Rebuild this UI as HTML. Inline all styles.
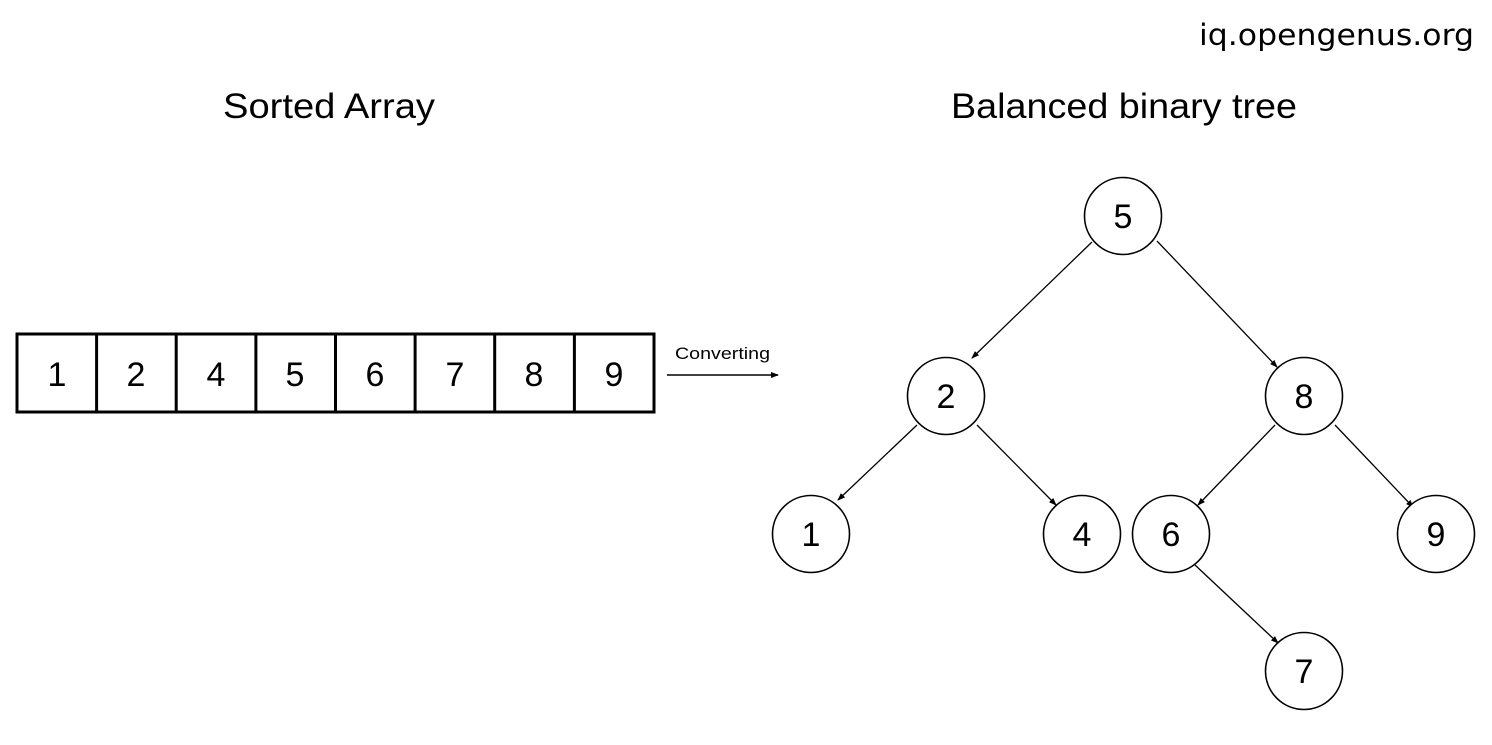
<!DOCTYPE html>
<html><head><style>body{margin:0;background:#fff}svg{display:block}</style></head><body>
<svg width="1492" height="745" viewBox="0 0 1492 745" xmlns="http://www.w3.org/2000/svg" font-family="Liberation Sans, sans-serif">
<defs><marker id="a" markerWidth="8" markerHeight="8" refX="7" refY="4" orient="auto" markerUnits="userSpaceOnUse"><path d="M0,1 L8,4 L0,7 Z" fill="#000"/></marker></defs>
<text x="1199" y="45" font-size="29" textLength="275" lengthAdjust="spacingAndGlyphs" font-family="DejaVu Sans, sans-serif">iq.opengenus.org</text>
<text x="223" y="118" font-size="35" textLength="212" lengthAdjust="spacingAndGlyphs">Sorted Array</text>
<text x="951" y="118" font-size="35" textLength="346" lengthAdjust="spacingAndGlyphs">Balanced binary tree</text>
<g fill="none" stroke="#000" stroke-width="3">
<rect x="17" y="334" width="637" height="78"/>
<line x1="96.6" y1="334" x2="96.6" y2="412"/><line x1="176.2" y1="334" x2="176.2" y2="412"/><line x1="255.9" y1="334" x2="255.9" y2="412"/><line x1="335.5" y1="334" x2="335.5" y2="412"/><line x1="415.1" y1="334" x2="415.1" y2="412"/><line x1="494.7" y1="334" x2="494.7" y2="412"/><line x1="574.4" y1="334" x2="574.4" y2="412"/>
</g>
<g font-size="34" text-anchor="middle">
<text x="57" y="386">1</text><text x="136" y="386">2</text><text x="216" y="386">4</text><text x="295" y="386">5</text><text x="375" y="386">6</text><text x="455" y="386">7</text><text x="534" y="386">8</text><text x="614" y="386">9</text>
</g>
<text x="675" y="359" font-size="17" textLength="95" lengthAdjust="spacingAndGlyphs">Converting</text>
<line x1="667" y1="375" x2="778" y2="375" stroke="#000" stroke-width="1.5" marker-end="url(#a)"/>
<g stroke="#000" stroke-width="1.3" marker-end="url(#a)">
<line x1="1092" y1="242" x2="972" y2="358"/>
<line x1="1157" y1="241" x2="1277" y2="367"/>
<line x1="917" y1="425" x2="838" y2="500"/>
<line x1="977" y1="425" x2="1056" y2="505"/>
<line x1="1275" y1="425" x2="1198" y2="505"/>
<line x1="1335" y1="425" x2="1413" y2="507"/>
<line x1="1195" y1="565" x2="1278" y2="643"/>
</g>
<g fill="#fff" stroke="#000" stroke-width="1.6">
<circle cx="1123" cy="216" r="38.5"/><circle cx="946" cy="396" r="38.5"/><circle cx="1304" cy="396" r="38.5"/><circle cx="811" cy="534" r="38.5"/><circle cx="1082" cy="534" r="38.5"/><circle cx="1171" cy="534" r="38.5"/><circle cx="1436" cy="534" r="38.5"/><circle cx="1304" cy="671" r="38.5"/>
</g>
<g font-size="34" text-anchor="middle">
<text x="1123" y="228">5</text><text x="946" y="408">2</text><text x="1304" y="408">8</text><text x="811" y="546">1</text><text x="1082" y="546">4</text><text x="1171" y="546">6</text><text x="1436" y="546">9</text><text x="1304" y="683">7</text>
</g>
</svg>
</body></html>
